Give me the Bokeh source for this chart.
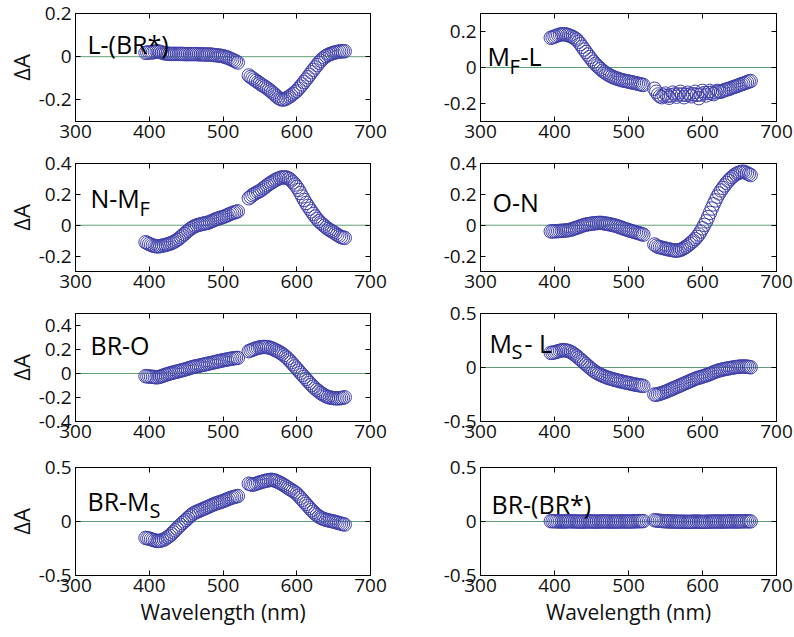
from bokeh.plotting import figure
from bokeh.models import (FixedTicker, LinearAxis, Span, Label, Range1d,
                          CustomJSTickFormatter)
from bokeh.layouts import gridplot
from bokeh.embed import file_html
from bokeh.resources import INLINE

# ---------------- data ----------------
WL_A = [395 + 2.5 * k for k in range(51)]   # 395 ... 520 nm
WL_B = [535 + 2.5 * k for k in range(53)]   # 535 ... 665 nm
XTICKS = [300, 400, 500, 600, 700]

L_BR_A = [0.018, 0.019, 0.020, 0.020, 0.020, 0.023, 0.025, 0.024, 0.022, 0.019,
          0.016, 0.015, 0.014, 0.013, 0.013, 0.013, 0.013, 0.013, 0.013, 0.013,
          0.013, 0.012, 0.012, 0.012, 0.012, 0.012, 0.012, 0.012, 0.012, 0.011,
          0.011, 0.011, 0.011, 0.010, 0.010, 0.010, 0.009, 0.008, 0.007, 0.006,
          0.005, 0.004, 0.002, 0.000, -0.003, -0.006, -0.010, -0.014, -0.018, -0.022,
          -0.027]
L_BR_B = [-0.087, -0.094, -0.100, -0.106, -0.112, -0.118, -0.124, -0.130, -0.135, -0.141,
          -0.147, -0.153, -0.160, -0.167, -0.175, -0.183, -0.190, -0.195, -0.198, -0.198,
          -0.195, -0.190, -0.185, -0.179, -0.172, -0.165, -0.158, -0.148, -0.138, -0.128,
          -0.117, -0.106, -0.095, -0.084, -0.072, -0.061, -0.050, -0.039, -0.028, -0.019,
          -0.010, -0.003, 0.003, 0.008, 0.012, 0.015, 0.018, 0.020, 0.022, 0.024,
          0.025, 0.025, 0.025]

MF_L_A = [0.165, 0.168, 0.172, 0.176, 0.180, 0.183, 0.185, 0.185, 0.184, 0.181,
          0.178, 0.173, 0.168, 0.162, 0.155, 0.143, 0.130, 0.115, 0.100, 0.086,
          0.072, 0.058, 0.045, 0.032, 0.020, 0.010, 0.000, -0.009, -0.018, -0.026,
          -0.033, -0.039, -0.045, -0.050, -0.055, -0.059, -0.062, -0.066, -0.069, -0.072,
          -0.074, -0.076, -0.078, -0.081, -0.083, -0.085, -0.087, -0.090, -0.092, -0.095,
          -0.097]
MF_L_B = [-0.118, -0.135, -0.150, -0.160, -0.165, -0.155, -0.145, -0.158, -0.168, -0.155,
          -0.140, -0.150, -0.162, -0.150, -0.135, -0.150, -0.165, -0.152, -0.140, -0.150,
          -0.160, -0.148, -0.135, -0.152, -0.170, -0.150, -0.130, -0.142, -0.155, -0.142,
          -0.130, -0.140, -0.148, -0.138, -0.130, -0.133, -0.135, -0.130, -0.125, -0.122,
          -0.120, -0.116, -0.112, -0.108, -0.105, -0.101, -0.097, -0.093, -0.090, -0.086,
          -0.082, -0.078, -0.075]

N_MF_A = [-0.110, -0.116, -0.122, -0.127, -0.132, -0.135, -0.137, -0.137, -0.135, -0.133,
          -0.130, -0.127, -0.124, -0.120, -0.116, -0.110, -0.104, -0.096, -0.088, -0.078,
          -0.067, -0.057, -0.046, -0.036, -0.027, -0.018, -0.010, -0.005, 0.000, 0.003,
          0.006, 0.009, 0.012, 0.014, 0.017, 0.022, 0.027, 0.032, 0.038, 0.042,
          0.046, 0.050, 0.053, 0.058, 0.063, 0.068, 0.074, 0.078, 0.082, 0.086,
          0.090]
N_MF_B = [0.175, 0.185, 0.195, 0.203, 0.210, 0.216, 0.222, 0.231, 0.240, 0.249,
          0.258, 0.267, 0.275, 0.283, 0.290, 0.296, 0.302, 0.306, 0.310, 0.311,
          0.310, 0.306, 0.300, 0.290, 0.278, 0.264, 0.248, 0.229, 0.208, 0.186,
          0.164, 0.144, 0.125, 0.107, 0.090, 0.073, 0.056, 0.041, 0.027, 0.016,
          0.005, -0.005, -0.015, -0.024, -0.032, -0.039, -0.046, -0.054, -0.062, -0.069,
          -0.076, -0.080, -0.082]

O_N_A = [-0.040, -0.040, -0.039, -0.039, -0.038, -0.037, -0.036, -0.035, -0.034, -0.033,
         -0.031, -0.028, -0.024, -0.020, -0.016, -0.012, -0.007, -0.003, 0.001, 0.004,
         0.006, 0.008, 0.010, 0.012, 0.013, 0.014, 0.015, 0.015, 0.014, 0.012,
         0.010, 0.008, 0.005, 0.003, 0.000, -0.003, -0.007, -0.011, -0.015, -0.020,
         -0.024, -0.028, -0.032, -0.036, -0.039, -0.043, -0.046, -0.050, -0.053, -0.057,
         -0.061]
O_N_B = [-0.125, -0.133, -0.140, -0.143, -0.146, -0.149, -0.152, -0.155, -0.157, -0.160,
         -0.162, -0.164, -0.165, -0.163, -0.160, -0.155, -0.148, -0.140, -0.132, -0.122,
         -0.112, -0.101, -0.090, -0.076, -0.060, -0.041, -0.020, 0.002, 0.025, 0.052,
         0.080, 0.108, 0.135, 0.161, 0.185, 0.206, 0.225, 0.242, 0.258, 0.274,
         0.288, 0.301, 0.312, 0.322, 0.330, 0.337, 0.342, 0.345, 0.347, 0.343,
         0.337, 0.331, 0.325]

BR_O_A = [-0.022, -0.024, -0.025, -0.027, -0.028, -0.030, -0.032, -0.030, -0.026, -0.021,
          -0.015, -0.010, -0.005, 0.000, 0.004, 0.008, 0.012, 0.016, 0.019, 0.024,
          0.028, 0.032, 0.036, 0.041, 0.046, 0.051, 0.055, 0.059, 0.062, 0.065,
          0.068, 0.072, 0.075, 0.079, 0.082, 0.086, 0.089, 0.093, 0.096, 0.100,
          0.103, 0.107, 0.110, 0.113, 0.116, 0.119, 0.122, 0.125, 0.127, 0.129,
          0.130]
BR_O_B = [0.186, 0.192, 0.198, 0.204, 0.210, 0.214, 0.218, 0.220, 0.221, 0.221,
          0.220, 0.217, 0.212, 0.206, 0.198, 0.191, 0.183, 0.174, 0.165, 0.153,
          0.140, 0.126, 0.110, 0.094, 0.077, 0.059, 0.041, 0.024, 0.006, -0.011,
          -0.028, -0.045, -0.062, -0.079, -0.096, -0.111, -0.125, -0.138, -0.150, -0.162,
          -0.173, -0.182, -0.190, -0.196, -0.200, -0.203, -0.205, -0.206, -0.207, -0.206,
          -0.205, -0.202, -0.198]

MS_L_A = [0.135, 0.137, 0.140, 0.145, 0.150, 0.155, 0.160, 0.160, 0.158, 0.155,
          0.150, 0.141, 0.130, 0.118, 0.105, 0.090, 0.075, 0.060, 0.045, 0.030,
          0.015, 0.000, -0.015, -0.028, -0.040, -0.050, -0.060, -0.068, -0.076, -0.083,
          -0.090, -0.096, -0.101, -0.106, -0.111, -0.116, -0.120, -0.125, -0.129, -0.133,
          -0.137, -0.141, -0.144, -0.148, -0.152, -0.156, -0.159, -0.162, -0.165, -0.168,
          -0.171]
MS_L_B = [-0.250, -0.252, -0.248, -0.243, -0.237, -0.231, -0.225, -0.218, -0.210, -0.203,
          -0.195, -0.188, -0.180, -0.173, -0.165, -0.158, -0.150, -0.143, -0.135, -0.128,
          -0.120, -0.113, -0.105, -0.099, -0.094, -0.089, -0.084, -0.078, -0.072, -0.066,
          -0.060, -0.053, -0.045, -0.038, -0.032, -0.027, -0.022, -0.018, -0.015, -0.011,
          -0.008, -0.005, -0.002, 0.001, 0.004, 0.006, 0.008, 0.009, 0.009, 0.009,
          0.008, 0.005, 0.002]

BR_MS_A = [-0.152, -0.155, -0.158, -0.164, -0.170, -0.175, -0.180, -0.180, -0.178, -0.173,
           -0.167, -0.157, -0.145, -0.132, -0.117, -0.100, -0.082, -0.065, -0.047, -0.031,
           -0.015, 0.000, 0.015, 0.032, 0.048, 0.062, 0.075, 0.084, 0.092, 0.099,
           0.106, 0.114, 0.121, 0.129, 0.136, 0.144, 0.152, 0.159, 0.166, 0.172,
           0.177, 0.183, 0.188, 0.196, 0.203, 0.210, 0.217, 0.222, 0.227, 0.232,
           0.236]
BR_MS_B = [0.350, 0.345, 0.340, 0.345, 0.350, 0.356, 0.362, 0.367, 0.372, 0.376,
           0.380, 0.383, 0.386, 0.384, 0.380, 0.373, 0.365, 0.357, 0.348, 0.337,
           0.326, 0.315, 0.303, 0.293, 0.282, 0.270, 0.258, 0.239, 0.220, 0.201,
           0.182, 0.163, 0.144, 0.125, 0.106, 0.089, 0.073, 0.059, 0.045, 0.036,
           0.027, 0.021, 0.015, 0.011, 0.007, 0.003, 0.000, -0.005, -0.010, -0.015,
           -0.020, -0.024, -0.028]

BR_BR_A = [0.003, 0.003, 0.002, 0.002, 0.001, 0.001, 0.000, 0.000, 0.001, 0.001,
           0.002, 0.002, 0.001, 0.001, 0.000, 0.000, -0.001, -0.001, 0.000, 0.000,
           0.001, 0.001, 0.000, 0.000, -0.001, -0.001, 0.000, 0.000, 0.001, 0.001,
           0.000, 0.000, 0.000, 0.000, -0.001, -0.001, 0.000, 0.000, 0.001, 0.001,
           0.000, 0.000, 0.000, 0.000, 0.001, 0.001, 0.002, 0.002, 0.003, 0.003,
           0.004]
BR_BR_B = [0.012, 0.010, 0.008, 0.006, 0.004, 0.003, 0.002, 0.001, 0.001, 0.000,
           0.000, -0.001, -0.001, -0.002, -0.002, -0.002, -0.002, -0.003, -0.003, -0.003,
           -0.002, -0.002, -0.001, -0.001, -0.002, -0.002, -0.003, -0.003, -0.002, -0.002,
           -0.001, -0.001, 0.000, 0.000, 0.000, 0.000, -0.001, -0.001, 0.000, 0.000,
           0.001, 0.001, 0.001, 0.001, 0.000, 0.000, 0.001, 0.001, 0.002, 0.002,
           0.002, 0.002, 0.001]

SERIES = [
    (L_BR_A, L_BR_B), (MF_L_A, MF_L_B),
    (N_MF_A, N_MF_B), (O_N_A, O_N_B),
    (BR_O_A, BR_O_B), (MS_L_A, MS_L_B),
    (BR_MS_A, BR_MS_B), (BR_BR_A, BR_BR_B),
]
Y_RANGES = [(-0.3, 0.2), (-0.3, 0.3), (-0.3, 0.4), (-0.3, 0.4),
            (-0.4, 0.5), (-0.5, 0.5), (-0.5, 0.5), (-0.5, 0.5)]
Y_TICKS = [[-0.2, 0, 0.2], [-0.2, 0, 0.2], [-0.2, 0, 0.2, 0.4], [-0.2, 0, 0.2, 0.4],
           [-0.4, -0.2, 0, 0.2, 0.4], [-0.5, 0, 0.5], [-0.5, 0, 0.5], [-0.5, 0, 0.5]]
# panel titles as pieces: (text, px from frame left, px below frame top, font px)
TITLES = [
    [("L-(BR*)", 12, 30, 25)],
    [("M", 7, 42, 25), ("F", 29, 53, 20), ("-L", 40, 42, 25)],
    [("N-M", 15, 34, 25), ("F", 64, 45, 20)],
    [("O-N", 12, 38, 25)],
    [("BR-O", 15, 31, 25)],
    [("M", 9, 29, 25), ("S", 31, 38, 20), ("- L", 44, 29, 25)],
    [("BR-M", 12, 33, 25), ("S", 74, 43, 20)],
    [("BR-(BR*)", 11, 36, 25)],
]
Y_LABEL = "ΔA"
X_LABEL = "Wavelength (nm)"

# ---------------- style ----------------
FONT = "Open Sans"
MARK = "#4040aa"
ZERO = "#5f9f73"
FRAME_H = 108
TICK_FS = "19px"
ROW_TOP = [13, 13, 13, 17]
ROW_BOTTOM = [29, 29, 29, 61]

fmt_code = "return Math.abs(tick) < 1e-9 ? '0' : tick.toFixed(1);"


def style_axis(ax, size=TICK_FS):
    ax.major_tick_in = 5
    ax.major_tick_out = 0
    ax.minor_tick_line_color = None
    ax.major_tick_line_color = "black"
    ax.axis_line_color = "black"
    ax.major_label_text_font = FONT
    ax.major_label_text_font_size = size
    ax.major_label_text_color = "#111111"
    ax.axis_label_text_font = FONT
    ax.axis_label_text_font_style = "normal"
    ax.axis_label_text_color = "#111111"
    ax.axis_label_standoff = 0


figs = []
for i in range(8):
    row, col = divmod(i, 2)
    left = col == 0
    width = 428 if left else 365
    mbl = 75 if left else 52
    mbr = 58 if left else 17
    top = ROW_TOP[row]
    bottom = ROW_BOTTOM[row]
    p = figure(width=width, height=top + FRAME_H + bottom,
               x_range=Range1d(300, 700), y_range=Range1d(*Y_RANGES[i]),
               output_backend="svg", toolbar_location=None, tools="", title=None,
               min_border_left=mbl, min_border_right=mbr,
               min_border_top=top, min_border_bottom=bottom)
    p.background_fill_color = "white"
    p.border_fill_color = "white"
    p.outline_line_color = "black"
    p.outline_line_width = 1
    p.xgrid.visible = False
    p.ygrid.visible = False

    p.xaxis.ticker = FixedTicker(ticks=XTICKS)
    p.yaxis.ticker = FixedTicker(ticks=Y_TICKS[i])
    p.yaxis.formatter = CustomJSTickFormatter(code=fmt_code)
    for ax in p.xaxis + p.yaxis:
        style_axis(ax)
    p.xaxis.major_label_standoff = 3
    p.yaxis.major_label_standoff = 4
    if left:
        p.yaxis.axis_label = Y_LABEL
        p.yaxis.axis_label_text_font_size = "22px"
        p.yaxis.axis_label_standoff = 0
    if row == 3:
        p.xaxis.axis_label = X_LABEL
        p.xaxis.axis_label_text_font_size = "21px"
        p.xaxis.axis_label_standoff = 3

    # mirrored inner ticks on top and right
    ta = LinearAxis(ticker=FixedTicker(ticks=XTICKS),
                    formatter=CustomJSTickFormatter(code="return '';"))
    ra = LinearAxis(ticker=FixedTicker(ticks=Y_TICKS[i]),
                    formatter=CustomJSTickFormatter(code="return '';"))
    for ax in (ta, ra):
        style_axis(ax, "0px")
        ax.major_label_standoff = 0
    p.add_layout(ta, "above")
    p.add_layout(ra, "right")

    p.add_layout(Span(location=0, dimension="width", line_color=ZERO,
                      line_width=1, level="underlay"))

    ya, yb = SERIES[i]
    p.scatter(WL_A + WL_B, ya + yb, marker="circle", size=13.5,
              fill_color=None, line_color=MARK, line_width=1)

    for text, dx, dy, fs in TITLES[i]:
        p.add_layout(Label(x=dx, y=FRAME_H - dy, x_units="screen", y_units="screen",
                           text=text, text_font=FONT, text_font_size=f"{fs}px",
                           text_color="black", text_align="left",
                           text_baseline="alphabetic"))
    figs.append(p)

layout = gridplot(figs, ncols=2, toolbar_location=None)
open("out.html", "w").write(file_html(layout, INLINE))
